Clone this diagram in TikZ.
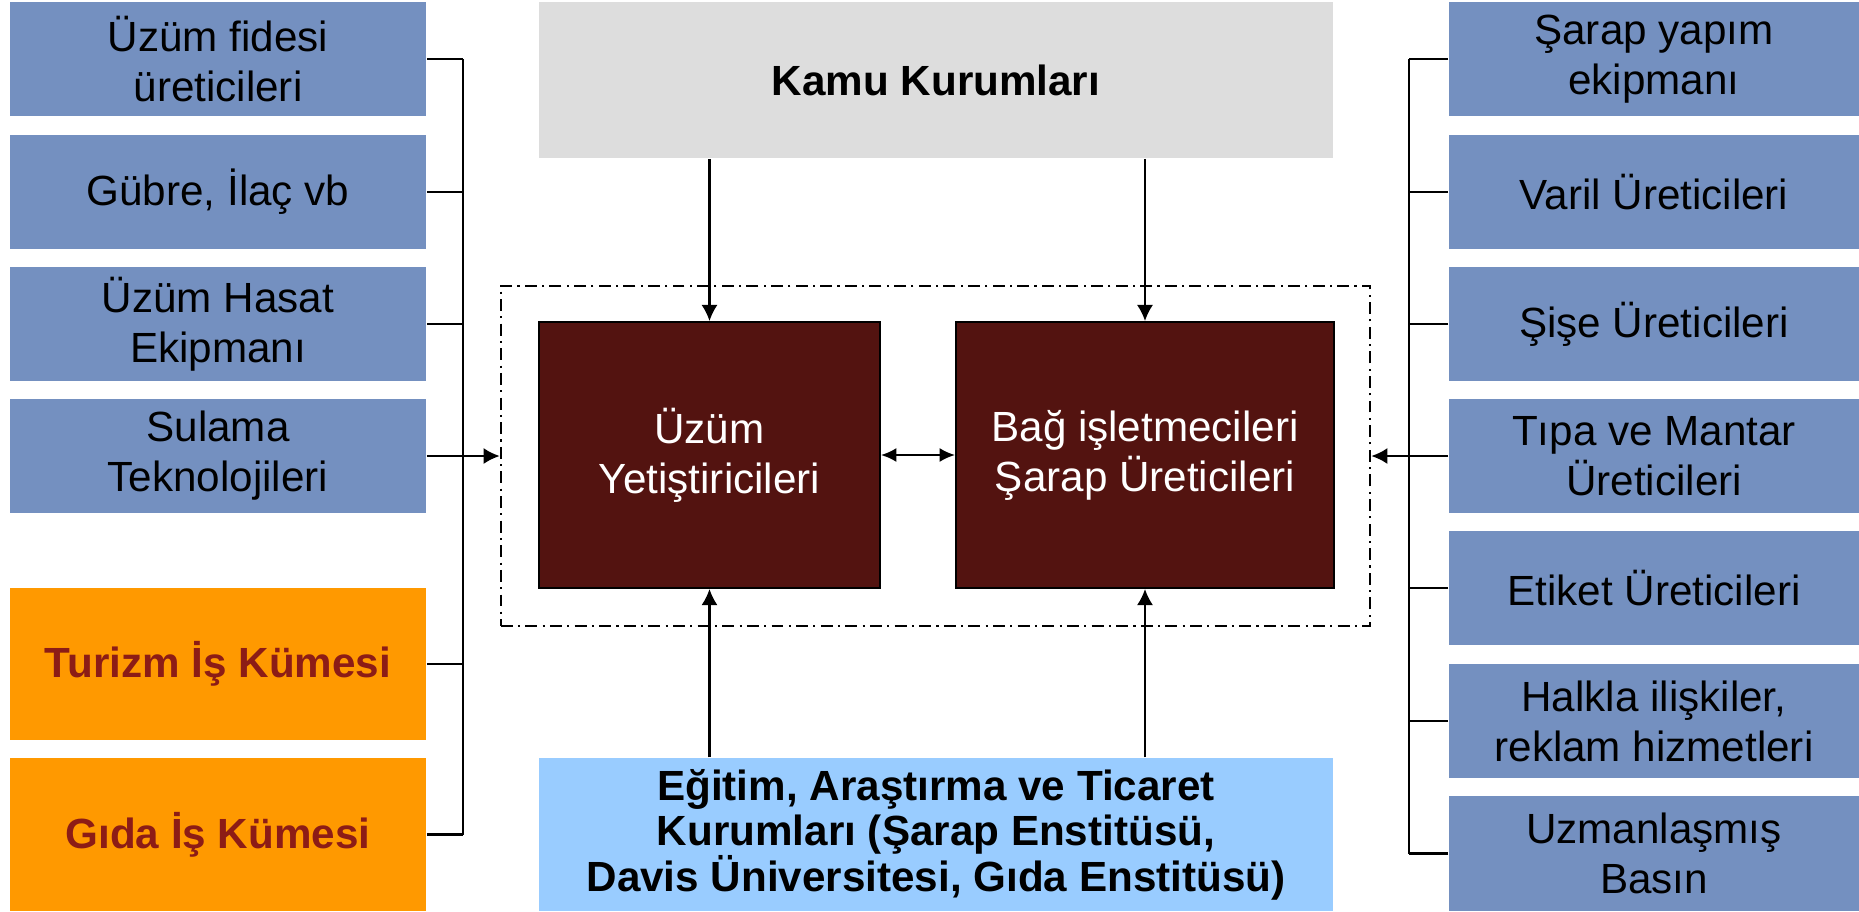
\documentclass[tikz,border=0pt]{standalone}
\usepackage{fontspec}
\setmainfont{Liberation Sans}
\usetikzlibrary{arrows.meta}
\definecolor{tedarik}{RGB}{116,144,192}
\definecolor{turuncu}{RGB}{255,153,0}
\definecolor{kiremit}{RGB}{140,28,22}
\definecolor{bordo}{RGB}{83,19,16}
\definecolor{gri}{RGB}{221,221,221}
\definecolor{acikmavi}{RGB}{153,204,255}
\begin{document}
\begin{tikzpicture}[x=0.01cm, y=-0.01cm,
    kutu/.style={inner sep=0pt, align=center, font=\fontsize{12}{14.2}\selectfont},
    solkutu/.style={kutu, fill=tedarik, minimum width=4.16cm, minimum height=1.14cm},
    sagkutu/.style={kutu, fill=tedarik, minimum width=4.10cm, minimum height=1.14cm},
    kume/.style={kutu, fill=turuncu, text=kiremit, font=\fontsize{12}{14.2}\selectfont\bfseries, minimum width=4.16cm},
    merkez/.style={kutu, fill=bordo, draw=black, line width=0.5pt, text=white, minimum height=2.66cm},
    kurum/.style={kutu, font=\fontsize{12}{14.2}\selectfont\bfseries, minimum width=7.94cm},
    ok/.style={-{Latex[length=4.6pt,width=4.6pt]}, line width=0.6pt},
    ciftok/.style={{Latex[length=4.4pt,width=4pt]}-{Latex[length=4.4pt,width=4pt]}, line width=0.6pt},
    hat/.style={line width=0.6pt}]
        \useasboundingbox (0,0) rectangle (1859,911);
        % sol taraf
        \node[solkutu] (fide) at (218,59) {Üzüm fidesi\\üreticileri};
        \node[solkutu] (gubre) at (218,192) {Gübre, İlaç vb};
        \node[solkutu] (hasat) at (218,324) {Üzüm Hasat\\Ekipmanı};
        \node[solkutu] (sulama) at (218,456) {Sulama\\Teknolojileri};
        \node[kume, minimum height=1.52cm] (turizm) at (218,664) {Turizm İş Kümesi};
        \node[kume, minimum height=1.53cm] (gida) at (218,834.5) {Gıda İş Kümesi};
        % sag taraf
        \node[sagkutu] (ekipman) at (1654,59) {Şarap yapım\\ekipmanı};
        \node[sagkutu] (varil) at (1654,192) {Varil Üreticileri};
        \node[sagkutu] (sise) at (1654,324) {Şişe Üreticileri};
        \node[sagkutu] (tipa) at (1654,456) {Tıpa ve Mantar\\Üreticileri};
        \node[sagkutu] (etiket) at (1654,588) {Etiket Üreticileri};
        \node[sagkutu] (halkla) at (1654,721) {Halkla ilişkiler,\\reklam hizmetleri};
        \node[sagkutu, minimum height=1.15cm] (basin) at (1654,853.5) {Uzmanlaşmış\\Basın};
        % orta
        \node[kurum, fill=gri, minimum height=1.56cm] (kamu) at (936,80) {Kamu Kurumları};
        \node[kurum, fill=acikmavi, minimum height=1.53cm, font=\fontsize{12}{12.9}\selectfont\bfseries] (egitim) at (936,834.5) {Eğitim, Araştırma ve Ticaret\\Kurumları (Şarap Enstitüsü,\\Davis Üniversitesi, Gıda Enstitüsü)};
        \node[draw, line width=0.6pt, dash pattern=on 3.4pt off 1.5pt on 0.6pt off 1.5pt, minimum width=8.69cm, minimum height=3.40cm, inner sep=0pt] (cekirdek) at (935.5,456) {};
        \node[merkez, minimum width=3.41cm] (uzum) at (709.5,455) {Üzüm\\Yetiştiricileri};
        \node[merkez, minimum width=3.78cm] (bag) at (1145,455) {Bağ işletmecileri\\Şarap Üreticileri};
        \draw[ciftok] (uzum) -- (bag);
        \draw[ok] (kamu.south -| uzum.north) -- (uzum.north);
        \draw[ok] (kamu.south -| bag.north) -- (bag.north);
        \draw[ok] (egitim.north -| uzum.south) -- (uzum.south);
        \draw[ok] (egitim.north -| bag.south) -- (bag.south);
        % baglantilar
        \coordinate (solhat) at (463,0);
        \coordinate (saghat) at (1409,0);
        \foreach \k in {fide,gubre,hasat,sulama,turizm,gida}
            \draw[hat] (\k.east) -- (\k.east -| solhat);
        \draw[hat] (fide.east -| solhat) -- (gida.east -| solhat);
        \draw[ok] (sulama.east) -- (cekirdek.west);
        \foreach \k in {ekipman,varil,sise,tipa,etiket,halkla,basin}
            \draw[hat] (\k.west) -- (\k.west -| saghat);
        \draw[hat] (ekipman.west -| saghat) -- (basin.west -| saghat);
        \draw[ok] (tipa.west) -- (cekirdek.east);
\end{tikzpicture}
\end{document}
